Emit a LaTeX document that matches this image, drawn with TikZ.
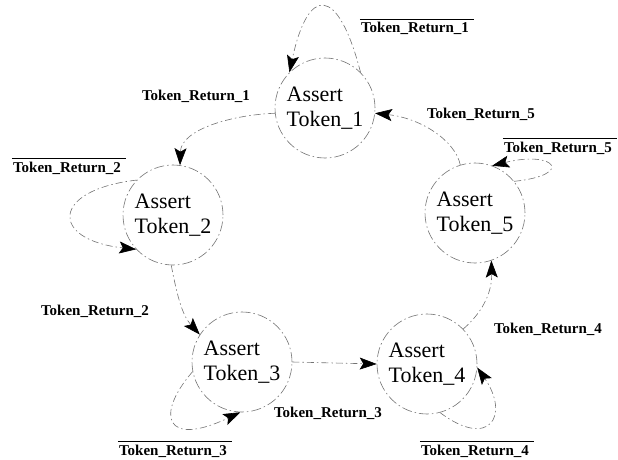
\documentclass[tikz,border=0pt]{standalone}
\usepackage{fontspec}
\setmainfont{Liberation Serif}
\usetikzlibrary{arrows.meta}

\begin{document}
\begin{tikzpicture}[x=1pt,y=-1pt,
  state/.style={circle, draw=black!55, line width=0.6pt,
    dash pattern=on 10pt off 3pt on 1.5pt off 3pt,
    minimum size=100pt, inner sep=0pt, align=left,
    font=\fontsize{22}{25}\selectfont},
  trans/.style={draw=black!55, line width=0.6pt,
    dash pattern=on 7pt off 3pt on 1.5pt off 3pt,
    -{Stealth[length=17pt,width=12pt,inset=3.5pt,black]}},
  lab/.style={font=\bfseries\fontsize{15}{18}\selectfont, inner sep=1pt, anchor=base},
  bar/.style={line width=1pt}]

\useasboundingbox (0,0) rectangle (618,460);

% states
\node[state] (n1) at (325,108) {Assert\\Token\_1};
\node[state] (n2) at (173,215) {Assert\\Token\_2};
\node[state] (n3) at (242,362) {Assert\\Token\_3};
\node[state] (n4) at (427,364) {Assert\\Token\_4};
\node[state] (n5) at (475,213) {Assert\\Token\_5};

% transitions between states
\draw[trans] (n1.186) .. controls (230,115) and (181,130) .. (n2.82);
\draw[trans] (n2.268) .. controls (177,295) and (182,315) .. (n3.147);
\draw[trans] (n3.0) -- (n4.180);
\draw[trans] (n4.44) .. controls (485,310) and (492,290) .. (n5.-71);
\draw[trans] (n5.107) .. controls (455,140) and (420,118) .. (n1.-6);

% self loops
\draw[trans] (n1.45) .. controls (338,-15) and (308,-15) .. (n1.135);
\draw[trans] (n2.136) .. controls (50,190) and (50,240) .. (n2.223);
\draw[trans] (n3.191) .. controls (155,415) and (165,448) .. (n3.268);
\draw[trans] (n4.-75) .. controls (490,450) and (510,415) .. (n4.-4);
\draw[trans] (n5.39) .. controls (575,175) and (555,150) .. (n5.70);

% transition labels
\node[lab] (t1) at (196,100) {Token\_Return\_1};
\node[lab] (t2) at (95,315)  {Token\_Return\_2};
\node[lab] (t3) at (328,417) {Token\_Return\_3};
\node[lab] (t4) at (548,333) {Token\_Return\_4};
\node[lab] (t5) at (481,118) {Token\_Return\_5};

% negated labels on the self loops
\node[lab] (f1) at (415,33)  {Token\_Return\_1};
\node[lab] (f2) at (67,172)  {Token\_Return\_2};
\node[lab] (f3) at (173,455) {Token\_Return\_3};
\node[lab] (f4) at (475,455) {Token\_Return\_4};
\node[lab] (f5) at (558,152) {Token\_Return\_5};
\foreach \f in {f1,f2,f3,f4,f5}
  \draw[bar] ([yshift=2pt]\f.north west) -- ([xshift=4pt,yshift=2pt]\f.north east);

\end{tikzpicture}
\end{document}
